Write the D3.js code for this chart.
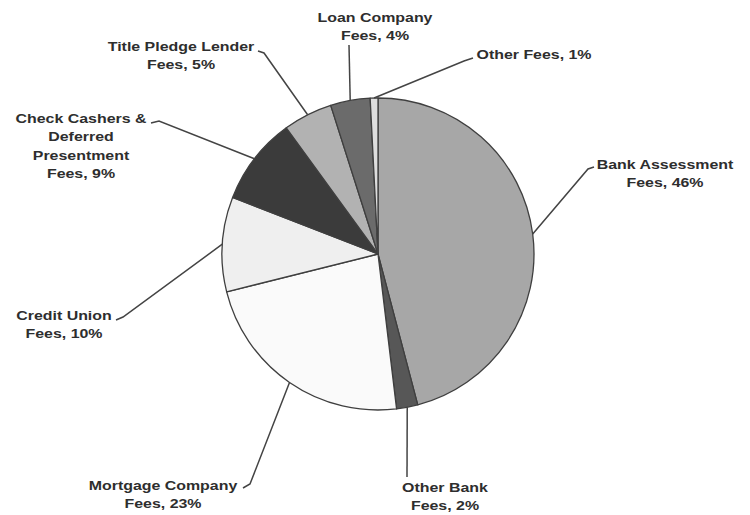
<!DOCTYPE html>
<html>
<head>
<meta charset="utf-8">
<script src="https://cdn.jsdelivr.net/npm/d3@7"></script>
<style>
  body { margin: 0; background: #fff; }
  svg { display: block; }
  .label { font-family: "Liberation Sans", Arial, sans-serif; font-weight: bold; font-size: 13.5px; fill: #2e2e2e; }
</style>
</head>
<body>
<svg id="chart" width="750" height="515"></svg>
<script>
// Fee categories, clockwise from 12 o'clock
const categories = [
    "Bank Assessment", "Other Bank", "Mortgage Company", "Credit Union",
    "Check Cashers & Deferred Presentment", "Title Pledge Lender", "Loan Company", "Other"
];
// share of total fees (%)
const shares = [45.9, 2.2, 23.0, 9.8, 9.1, 5.1, 4.1, 0.8];
// label text lines (the percentage is appended to the last line)
const labelLines = [
    ["Bank Assessment", "Fees,"],
    ["Other Bank", "Fees,"],
    ["Mortgage Company", "Fees,"],
    ["Credit Union", "Fees,"],
    ["Check Cashers &", "Deferred", "Presentment", "Fees,"],
    ["Title Pledge Lender", "Fees,"],
    ["Loan Company", "Fees,"],
    ["Other Fees,"]
];
const fills = ["#a7a7a7", "#575757", "#fafafa", "#efefef", "#3b3b3b", "#b2b2b2", "#6b6b6b", "#dedede"];

// label layout: text centre x, first baseline y, and leader path points (label end first)
const labelLayout = [
    { x: 665, y: 169, leader: [[594, 167], [588, 169]] },
    { x: 445, y: 492, leader: [[407, 477]] },
    { x: 163, y: 490, leader: [[243, 488], [250, 484]] },
    { x: 64,  y: 320, leader: [[116, 320], [123, 317]] },
    { x: 81,  y: 123, leader: [[151, 123], [159, 121]] },
    { x: 181, y: 51,  leader: [[258, 51], [264, 53]] },
    { x: 375, y: 22,  leader: [[349, 45]] },
    { x: 534, y: 59,  leader: [[473, 58], [464, 61]] }
];

const width = 750, height = 515;
const cx = 378, cy = 254, radius = 156;
const lineHeight = 18.5;
const textStretch = 1.18; // the source lettering is wider than Arial

const svg = d3.select("#chart");
const g = svg.append("g").attr("transform", "translate(" + cx + "," + cy + ")");

const data = categories.map((c, i) => ({ label: c, value: shares[i], i: i }));

const pie = d3.pie()
    .sort(null)
    .value(d => d.value);

const arc = d3.arc()
    .innerRadius(0)
    .outerRadius(radius);

const edgeArc = d3.arc()
    .innerRadius(radius)
    .outerRadius(radius);

const arcs = pie(data);

g.selectAll("path.slice")
    .data(arcs)
    .enter()
    .append("path")
    .attr("class", "slice")
    .attr("d", arc)
    .attr("fill", d => fills[d.data.i])
    .attr("stroke", "#3f3f3f")
    .attr("stroke-width", 1.3)
    .attr("stroke-linejoin", "round");

/* ------- LEADER LINES ------- */
const line = d3.line();
svg.append("g").selectAll("path.leader")
    .data(arcs)
    .enter()
    .append("path")
    .attr("class", "leader")
    .attr("fill", "none")
    .attr("stroke", "#444")
    .attr("stroke-width", 1.5)
    .attr("d", d => {
        const c = edgeArc.centroid(d);
        const pts = labelLayout[d.data.i].leader.concat([[cx + c[0], cy + c[1]]]);
        return line(pts);
    });

/* ------- LABELS ------- */
const labels = svg.append("g").selectAll("text.label")
    .data(arcs)
    .enter()
    .append("text")
    .attr("class", "label")
    .attr("text-anchor", "middle")
    .attr("transform", d => "translate(" + labelLayout[d.data.i].x + "," + labelLayout[d.data.i].y + ") scale(" + textStretch + ",1)");

labels.each(function(d) {
    const lines = labelLines[d.data.i];
    const pct = d3.format(".0f")(d.data.value) + "%";
    const t = d3.select(this);
    lines.forEach((ln, k) => {
        t.append("tspan")
            .attr("x", 0)
            .attr("dy", k === 0 ? 0 : lineHeight)
            .text(k === lines.length - 1 ? ln + " " + pct : ln);
    });
});
</script>
</body>
</html>
